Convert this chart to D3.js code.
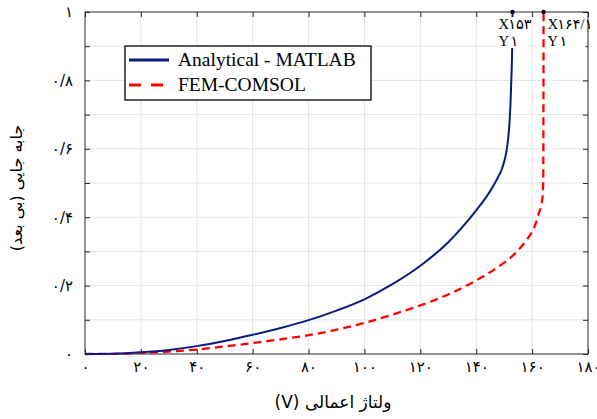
<!DOCTYPE html>
<html>
<head>
<meta charset="utf-8">
<script src="https://cdn.jsdelivr.net/npm/d3@7"></script>
<style>
  html, body { margin: 0; padding: 0; background: #fff; }
  svg { display: block; }
</style>
</head>
<body>
<div id="chart"></div>
<script>
// Analytical (MATLAB) curve
const analyticalV = [0, 10, 20, 30, 40, 50, 60, 70, 80, 90, 100, 110, 120, 130, 140, 143, 146, 148, 149, 150, 150.8, 151.4, 151.9, 152.3, 152.6, 152.85, 153];
const analyticalY = [0, 0.001, 0.005, 0.012, 0.023, 0.038, 0.056, 0.076, 0.099, 0.127, 0.16, 0.204, 0.258, 0.327, 0.42, 0.452, 0.49, 0.52, 0.537, 0.562, 0.592, 0.628, 0.675, 0.74, 0.81, 0.89, 1];

// FEM (COMSOL) curve
const femV = [0, 10, 20, 30, 40, 50, 60, 70, 80, 90, 100, 110, 120, 130, 140, 147, 154.5, 158, 160, 161.5, 162.4, 163.2, 163.6, 163.85, 164.0, 164.1];
const femY = [0, 0.0005, 0.003, 0.007, 0.013, 0.022, 0.032, 0.043, 0.055, 0.071, 0.091, 0.115, 0.142, 0.174, 0.215, 0.25, 0.299, 0.333, 0.358, 0.386, 0.411, 0.432, 0.45, 0.475, 0.52, 1];

const xTicks = [0, 20, 40, 60, 80, 100, 120, 140, 160, 180];
const xTickLabels = ["۰", "۲۰", "۴۰", "۶۰", "۸۰", "۱۰۰", "۱۲۰", "۱۴۰", "۱۶۰", "۱۸۰"];
const yTicks = [0, 0.1, 0.2, 0.3, 0.4, 0.5, 0.6, 0.7, 0.8, 0.9, 1];
const yTickLabels = ["۰", "", "۰/۲", "", "۰/۴", "", "۰/۶", "", "۰/۸", "", "۱"];

const seriesNames = ["Analytical - MATLAB", "FEM-COMSOL"];
const tipPoints = [
  { v: 153, y: 1, lines: ["X۱۵۳", "Y ۱"] },
  { v: 164.1, y: 1, lines: ["X۱۶۴/۱", "Y ۱"] }
];

const W = 597, H = 419;
const margin = { left: 85, right: 9, top: 12, bottom: 65 };

const svg = d3.select("#chart").append("svg")
  .attr("width", W).attr("height", H);

const x = d3.scaleLinear().domain([0, 180]).range([margin.left, W - margin.right]);
const y = d3.scaleLinear().domain([0, 1]).range([H - margin.bottom, margin.top]);

const axisColor = "#262626";
const gridColor = "#e4e4e4";
const persianFont = "'DejaVu Sans', 'Noto Sans', sans-serif";

// grid
svg.append("g").selectAll("line").data(xTicks.slice(1, -1)).enter().append("line")
  .attr("x1", d => x(d)).attr("x2", d => x(d))
  .attr("y1", y(0)).attr("y2", y(1))
  .attr("stroke", gridColor).attr("stroke-width", 1);
svg.append("g").selectAll("line").data(yTicks.slice(1, -1)).enter().append("line")
  .attr("x1", x(0)).attr("x2", x(180))
  .attr("y1", d => y(d)).attr("y2", d => y(d))
  .attr("stroke", gridColor).attr("stroke-width", 1);

// axes with inward ticks
const gx = svg.append("g")
  .attr("transform", `translate(0,${y(0)})`)
  .call(d3.axisBottom(x).tickValues(xTicks).tickSizeInner(-5).tickSizeOuter(0)
    .tickPadding(7).tickFormat((d, i) => xTickLabels[i]));
const gy = svg.append("g")
  .attr("transform", `translate(${x(0)},0)`)
  .call(d3.axisLeft(y).tickValues(yTicks).tickSizeInner(-5).tickSizeOuter(0)
    .tickPadding(12).tickFormat((d, i) => yTickLabels[i]));
const gx2 = svg.append("g")
  .attr("transform", `translate(0,${y(1)})`)
  .call(d3.axisTop(x).tickValues(xTicks).tickSizeInner(-5).tickSizeOuter(0).tickFormat(""));
const gy2 = svg.append("g")
  .attr("transform", `translate(${x(180)},0)`)
  .call(d3.axisRight(y).tickValues(yTicks).tickSizeInner(-5).tickSizeOuter(0).tickFormat(""));

[gx, gy, gx2, gy2].forEach(g => {
  g.select(".domain").remove();
  g.selectAll(".tick line").attr("stroke", axisColor);
  g.selectAll("text")
    .attr("font-family", persianFont)
    .attr("font-size", 15)
    .attr("fill", "#000");
});

// frame
svg.append("rect")
  .attr("x", x(0)).attr("y", y(1))
  .attr("width", x(180) - x(0)).attr("height", y(0) - y(1))
  .attr("fill", "none").attr("stroke", axisColor).attr("stroke-width", 1);

// curves
const line = d3.line()
  .x(d => x(d[0])).y(d => y(d[1]))
  .curve(d3.curveMonotoneX);

svg.append("path")
  .datum(femV.map((v, i) => [v, femY[i]]))
  .attr("d", line)
  .attr("fill", "none").attr("stroke", "#ff0000")
  .attr("stroke-width", 2.3).attr("stroke-dasharray", "8,5");

svg.append("path")
  .datum(analyticalV.map((v, i) => [v, analyticalY[i]]))
  .attr("d", line)
  .attr("fill", "none").attr("stroke", "#0a1a80")
  .attr("stroke-width", 2);

// data tips
const tipBoxes = [
  { dx: -16, top: 17, w: 33, h: 31 },
  { dx: 2, top: 13, w: 40, h: 35 }
];
tipPoints.forEach((t, i) => {
  const b = tipBoxes[i];
  const px = x(t.v);
  svg.append("rect")
    .attr("x", px + b.dx).attr("y", b.top)
    .attr("width", b.w).attr("height", b.h)
    .attr("fill", "#fff");
  t.lines.forEach((s, j) => {
    svg.append("text")
      .attr("x", px + b.dx + 2).attr("y", 29 + j * 16.5)
      .attr("font-family", "'Liberation Serif', 'DejaVu Sans', serif")
      .attr("font-size", 14.5)
      .attr("letter-spacing", -0.8)
      .attr("fill", "#000")
      .text(s);
  });
  svg.append("circle")
    .attr("cx", px).attr("cy", y(t.y)).attr("r", 2.2)
    .attr("fill", "#000");
});

// legend
const lg = svg.append("g").attr("transform", "translate(125,46)");
lg.append("rect")
  .attr("width", 246).attr("height", 54)
  .attr("fill", "#fff").attr("stroke", "#000").attr("stroke-width", 1.3);
const legendStyles = [
  { color: "#0a1a80", dash: null, w: 3 },
  { color: "#ff0000", dash: "12,10", w: 3 }
];
seriesNames.forEach((name, i) => {
  const yy = 14 + i * 25;
  lg.append("line")
    .attr("x1", 4).attr("x2", 44).attr("y1", yy).attr("y2", yy)
    .attr("stroke", legendStyles[i].color)
    .attr("stroke-width", legendStyles[i].w)
    .attr("stroke-dasharray", legendStyles[i].dash);
  lg.append("text")
    .attr("x", 53).attr("y", yy + 6)
    .attr("font-family", "'Liberation Serif', 'Times New Roman', serif")
    .attr("font-size", 19.5)
    .attr("fill", "#000")
    .text(name);
});

// axis titles
svg.append("text")
  .attr("x", 333).attr("y", 408)
  .attr("text-anchor", "middle")
  .attr("direction", "rtl")
  .attr("font-family", persianFont)
  .attr("font-size", 17)
  .attr("fill", "#000")
  .text("ولتاژ اعمالی (V)");

svg.append("text")
  .attr("transform", "translate(22,188) rotate(-90)")
  .attr("text-anchor", "middle")
  .attr("direction", "rtl")
  .attr("font-family", persianFont)
  .attr("font-size", 16)
  .attr("fill", "#000")
  .text("جابه جایی (بی بعد)");
</script>
</body>
</html>
